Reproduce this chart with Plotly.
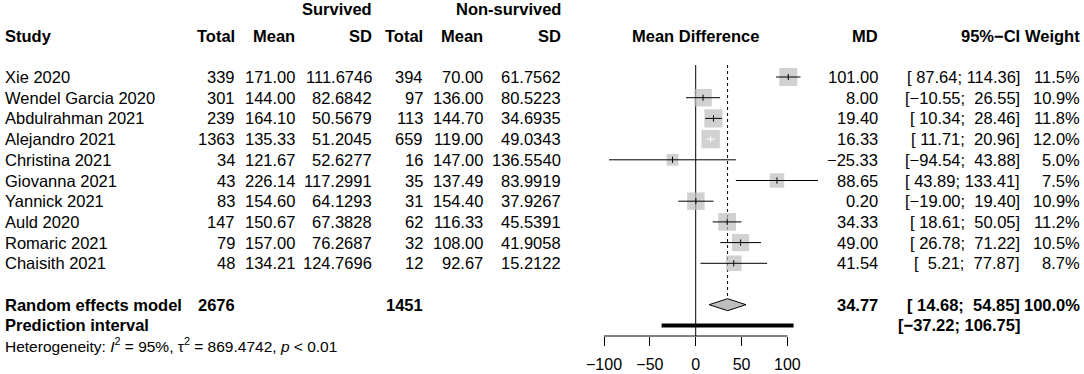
import math
import plotly.graph_objects as go

# ---------------- data ----------------
studies = ["Xie 2020", "Wendel Garcia 2020", "Abdulrahman 2021", "Alejandro 2021",
           "Christina 2021", "Giovanna 2021", "Yannick 2021", "Auld 2020",
           "Romaric 2021", "Chaisith 2021"]
surv_total = [339, 301, 239, 1363, 34, 43, 83, 147, 79, 48]
surv_mean = [171.00, 144.00, 164.10, 135.33, 121.67, 226.14, 154.60, 150.67, 157.00, 134.21]
surv_sd = [111.6746, 82.6842, 50.5679, 51.2045, 52.6277, 117.2991, 64.1293, 67.3828, 76.2687, 124.7696]
non_total = [394, 97, 113, 659, 16, 35, 31, 62, 32, 12]
non_mean = [70.00, 136.00, 144.70, 119.00, 147.00, 137.49, 154.40, 116.33, 108.00, 92.67]
non_sd = [61.7562, 80.5223, 34.6935, 49.0343, 136.5540, 83.9919, 37.9267, 45.5391, 41.9058, 15.2122]
md = [101.00, 8.00, 19.40, 16.33, -25.33, 88.65, 0.20, 34.33, 49.00, 41.54]
ci_low = [87.64, -10.55, 10.34, 11.71, -94.54, 43.89, -19.00, 18.61, 26.78, 5.21]
ci_high = [114.36, 26.55, 28.46, 20.96, 43.88, 133.41, 19.40, 50.05, 71.22, 77.87]
weight = [11.5, 10.9, 11.8, 12.0, 5.0, 7.5, 10.9, 11.2, 10.5, 8.7]

re_label = "Random effects model"
re_total_surv = 2676
re_total_non = 1451
re_md = 34.77
re_low = 14.68
re_high = 54.85
re_weight = 100.0

pi_label = "Prediction interval"
pi_low = -37.22
pi_high = 106.75

het_i2 = "95%"
het_tau2 = "869.4742"
het_p = "0.01"

tick_vals = [-100, -50, 0, 50, 100]
tick_text = ["\u2212100", "\u221250", "0", "50", "100"]

# ---------------- layout constants ----------------
W, H = 1084, 374
FONT = "Liberation Sans, Arial, Helvetica, sans-serif"
FS = 16.5
FS_SMALL = 15.5
FS_TICK = 16
NB = "\u00a0"
MINUS = "\u2212"

px_zero = 695.7          # pixel of value 0
px_per_unit = 0.9167     # pixels per unit
row_h = 20.7
y0px = 77.0              # pixel of first study row
axis_px = 336.0          # pixel of the x axis line

x_lo = (0 - px_zero) / px_per_unit
x_hi = (W - px_zero) / px_per_unit
y_top = -y0px / row_h
y_bot = (axis_px - y0px) / row_h

n = len(studies)
rows = list(range(n))
row_re = n + 1
row_pi = n + 2
row_het = n + 2.95
row_head = -2
row_group = -3.3


def ypaper(t):
    return (H - (y0px + row_h * t)) / H


def xp(px):
    return px / W


def fnum(v, d=2):
    return f"{v:.{d}f}".replace("-", MINUS)


def fci(lo, hi):
    a = f"{lo:.2f}".rjust(6).replace(" ", NB).replace("-", MINUS)
    b = f"{hi:.2f}".rjust(6).replace(" ", NB).replace("-", MINUS)
    return "[" + a + ";" + NB + b + "]"


# column right edges (pixels)
col = dict(study=4, t1=236, m1=296, s1=373, t2=424, m2=484, s2=562,
           md=879, ci=1021, w=1081)

fig = go.Figure()

# reference lines
fig.add_trace(go.Scatter(x=[0, 0], y=[-0.58, y_bot], mode="lines",
                         line=dict(color="black", width=1), hoverinfo="skip"))
fig.add_trace(go.Scatter(x=[re_md, re_md], y=[-0.58, row_re - 0.29], mode="lines",
                         line=dict(color="black", width=1, dash="dot"), hoverinfo="skip"))

# squares
sizes = [5.3 * math.sqrt(w) for w in weight]
fig.add_trace(go.Scatter(x=md, y=rows, mode="markers",
                         marker=dict(symbol="square", size=sizes, color="#bebebe",
                                     line=dict(width=0)),
                         hoverinfo="skip"))

# CI lines + estimate ticks
bx, by, wx, wy = [], [], [], []
for i in range(n):
    inside = (ci_high[i] - ci_low[i]) * px_per_unit < 0.8 * sizes[i]
    xs = [ci_low[i], ci_high[i], None, md[i], md[i], None]
    ys = [i, i, None, i - 0.15, i + 0.15, None]
    if inside:
        wx += xs; wy += ys
    else:
        bx += xs; by += ys
fig.add_trace(go.Scatter(x=bx, y=by, mode="lines", line=dict(color="black", width=1),
                         hoverinfo="skip"))
fig.add_trace(go.Scatter(x=wx, y=wy, mode="lines", line=dict(color="white", width=1),
                         hoverinfo="skip"))

# diamond
fig.add_trace(go.Scatter(x=[re_low, re_md, re_high, re_md, re_low],
                         y=[row_re, row_re - 0.29, row_re, row_re + 0.29, row_re],
                         mode="lines", fill="toself", fillcolor="#bebebe",
                         line=dict(color="black", width=1), hoverinfo="skip"))

# prediction interval
fig.add_trace(go.Scatter(x=[pi_low, pi_high], y=[row_pi, row_pi], mode="lines",
                         line=dict(color="black", width=4), hoverinfo="skip"))

ann = []


def txt(px, t, s, anchor="right", bold=False, size=FS, xref="paper"):
    if bold:
        s = "<b>" + s + "</b>"
    ann.append(dict(x=xp(px) if xref == "paper" else px, y=ypaper(t), xref=xref, yref="paper",
                    text=s, showarrow=False, xanchor=anchor, yanchor="middle",
                    borderpad=0, font=dict(family=FONT, size=size, color="black")))


# group headers
txt(col["s1"], row_group, "Survived", bold=True)
txt(col["s2"], row_group, "Non-survived", bold=True)
# column headers
txt(col["study"], row_head, "Study", anchor="left", bold=True)
txt(col["t1"], row_head, "Total", bold=True)
txt(col["m1"], row_head, "Mean", bold=True)
txt(col["s1"], row_head, "SD", bold=True)
txt(col["t2"], row_head, "Total", bold=True)
txt(col["m2"], row_head, "Mean", bold=True)
txt(col["s2"], row_head, "SD", bold=True)
txt((tick_vals[0] + tick_vals[-1]) / 2, row_head, "Mean Difference", anchor="center",
    bold=True, xref="x")
txt(col["md"], row_head, "MD", bold=True)
txt(col["ci"], row_head, "95%" + MINUS + "CI", bold=True)
txt(col["w"], row_head, "Weight", bold=True)

for i in range(n):
    txt(col["study"], i, studies[i], anchor="left")
    txt(col["t1"], i, str(surv_total[i]))
    txt(col["m1"], i, fnum(surv_mean[i]))
    txt(col["s1"], i, fnum(surv_sd[i], 4))
    txt(col["t2"], i, str(non_total[i]))
    txt(col["m2"], i, fnum(non_mean[i]))
    txt(col["s2"], i, fnum(non_sd[i], 4))
    txt(col["md"], i, fnum(md[i]))
    txt(col["ci"], i, fci(ci_low[i], ci_high[i]))
    txt(col["w"], i, f"{weight[i]:.1f}%")

txt(col["study"], row_re, re_label, anchor="left", bold=True)
txt(col["t1"], row_re, str(re_total_surv), bold=True)
txt(col["t2"], row_re, str(re_total_non), bold=True)
txt(col["md"], row_re, fnum(re_md), bold=True)
txt(col["ci"], row_re, fci(re_low, re_high), bold=True)
txt(col["w"], row_re, f"{re_weight:.1f}%", bold=True)

txt(col["study"], row_pi, pi_label, anchor="left", bold=True)
txt(col["ci"], row_pi, fci(pi_low, pi_high), bold=True)

txt(col["study"], row_het,
    "Heterogeneity: <i>I</i><sup>2</sup> = " + het_i2 + ", \u03c4<sup>2</sup> = " + het_tau2
    + ", <i>p</i> &lt; " + het_p, anchor="left", size=FS_SMALL)

fig.update_layout(
    width=W, height=H,
    margin=dict(l=0, r=0, t=0, b=0),
    paper_bgcolor="white", plot_bgcolor="white",
    showlegend=False,
    annotations=ann,
    shapes=[dict(type="line", xref="x", yref="paper", x0=tick_vals[0], x1=tick_vals[-1],
                 y0=(H - axis_px) / H, y1=(H - axis_px) / H,
                 line=dict(color="black", width=1))],
    xaxis=dict(domain=[0, 1], range=[x_lo, x_hi], tickvals=tick_vals, ticktext=tick_text,
               ticks="outside", ticklen=9, tickwidth=1, tickcolor="black",
               showline=False, showgrid=False, zeroline=False, fixedrange=True,
               ticklabelstandoff=5,
               tickfont=dict(family=FONT, size=FS_TICK, color="black")),
    yaxis=dict(domain=[(H - axis_px) / H, 1], range=[y_bot, y_top], visible=False,
               showgrid=False, zeroline=False, fixedrange=True),
)

fig.write_html("out.html", config={"displayModeBar": False},
               post_script="document.body.style.margin='0';document.body.style.overflow='hidden';")
